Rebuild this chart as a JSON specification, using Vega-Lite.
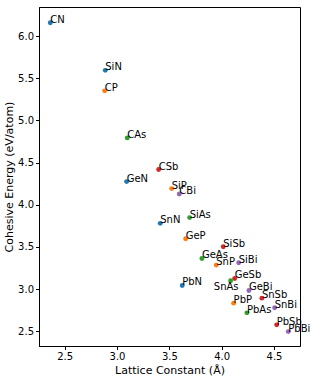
{
  "$schema": "https://vega.github.io/schema/vega-lite/v6.json",
  "autosize": "none",
  "width": 261,
  "height": 339,
  "padding": {"left": 39, "top": 7, "right": 16, "bottom": 34},
  "background": "white",
  "config": {
    "view": {"stroke": "black", "strokeWidth": 1},
    "font": "DejaVu Sans",
    "axis": {
      "grid": false,
      "domainColor": "black",
      "tickColor": "black",
      "tickSize": 3.5,
      "labelColor": "black",
      "labelFont": "DejaVu Sans",
      "labelFontSize": 10,
      "labelPadding": 2,
      "titleFont": "DejaVu Sans",
      "titleFontSize": 11,
      "titleFontWeight": "normal",
      "titleColor": "black"
    }
  },
  "data": {
    "values": [
      {"name": "CN", "a": 2.363, "e": 6.158, "anion": "N"},
      {"name": "SiN", "a": 2.888, "e": 5.593, "anion": "N"},
      {"name": "CP", "a": 2.882, "e": 5.350, "anion": "P"},
      {"name": "CAs", "a": 3.098, "e": 4.792, "anion": "As"},
      {"name": "GeN", "a": 3.092, "e": 4.274, "anion": "N"},
      {"name": "CSb", "a": 3.398, "e": 4.417, "anion": "Sb"},
      {"name": "SiP", "a": 3.522, "e": 4.191, "anion": "P"},
      {"name": "CBi", "a": 3.595, "e": 4.127, "anion": "Bi"},
      {"name": "SiAs", "a": 3.694, "e": 3.847, "anion": "As"},
      {"name": "SnN", "a": 3.413, "e": 3.779, "anion": "N"},
      {"name": "GeP", "a": 3.656, "e": 3.597, "anion": "P"},
      {"name": "SiSb", "a": 4.015, "e": 3.502, "anion": "Sb"},
      {"name": "GeAs", "a": 3.811, "e": 3.363, "anion": "As"},
      {"name": "SnP", "a": 3.948, "e": 3.284, "anion": "P"},
      {"name": "SiBi", "a": 4.162, "e": 3.312, "anion": "Bi"},
      {"name": "GeSb", "a": 4.124, "e": 3.126, "anion": "Sb"},
      {"name": "SnAs", "a": 4.085, "e": 3.099, "anion": "As"},
      {"name": "PbN", "a": 3.623, "e": 3.043, "anion": "N"},
      {"name": "GeBi", "a": 4.260, "e": 2.983, "anion": "Bi"},
      {"name": "SnSb", "a": 4.384, "e": 2.892, "anion": "Sb"},
      {"name": "PbP", "a": 4.114, "e": 2.833, "anion": "P"},
      {"name": "SnBi", "a": 4.506, "e": 2.778, "anion": "Bi"},
      {"name": "PbAs", "a": 4.241, "e": 2.718, "anion": "As"},
      {"name": "PbSb", "a": 4.525, "e": 2.576, "anion": "Sb"},
      {"name": "PbBi", "a": 4.636, "e": 2.496, "anion": "Bi"}
    ]
  },
  "encoding": {
    "x": {
      "field": "a", "type": "quantitative",
      "scale": {"domain": [2.255, 4.748], "nice": false, "zero": false},
      "axis": {"values": [2.5, 3.0, 3.5, 4.0, 4.5], "format": ".1f", "title": "Lattice Constant (Å)", "titlePadding": 3}
    },
    "y": {
      "field": "e", "type": "quantitative",
      "scale": {"domain": [2.325, 6.344], "nice": false, "zero": false},
      "axis": {"values": [2.5, 3.0, 3.5, 4.0, 4.5, 5.0, 5.5, 6.0], "format": ".1f", "title": "Cohesive Energy (eV/atom)", "titlePadding": 3}
    }
  },
  "layer": [
    {
      "mark": {"type": "circle", "size": 24, "opacity": 1},
      "encoding": {
        "color": {
          "field": "anion", "type": "nominal",
          "scale": {"domain": ["N", "P", "As", "Sb", "Bi"], "range": ["#1f77b4", "#ff7f0e", "#2ca02c", "#d62728", "#9467bd"]},
          "legend": null
        }
      }
    },
    {
      "transform": [{"filter": "datum.name !== 'SnAs'"}],
      "mark": {"type": "text", "align": "left", "baseline": "alphabetic", "fontSize": 10, "font": "DejaVu Sans", "color": "black", "dx": 0, "dy": 0},
      "encoding": {"text": {"field": "name"}}
    },
    {
      "transform": [{"filter": "datum.name === 'SnAs'"}],
      "mark": {"type": "text", "align": "right", "baseline": "alphabetic", "fontSize": 10, "font": "DejaVu Sans", "color": "black", "dx": 8, "dy": 9},
      "encoding": {"text": {"field": "name"}}
    }
  ]
}
